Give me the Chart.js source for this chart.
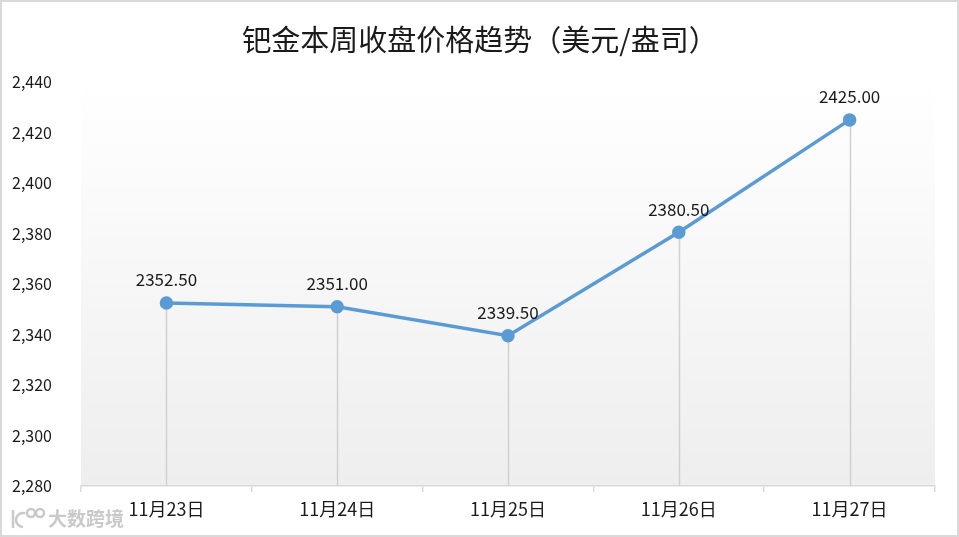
<!DOCTYPE html>
<html>
<head>
<meta charset="utf-8">
<script src="https://cdn.jsdelivr.net/npm/chart.js@4/dist/chart.umd.min.js"></script>
<style>
  html, body { margin: 0; padding: 0; background: #fff; }
  #wrap { width: 959px; height: 537px; }
</style>
</head>
<body>
<div id="wrap"><canvas id="canvas" width="959" height="537"></canvas></div>
<script>
var chartTitle = '钯金本周收盘价格趋势（美元/盎司）';
var categories = ['11月23日', '11月24日', '11月25日', '11月26日', '11月27日'];
var prices = [2352.50, 2351.00, 2339.50, 2380.50, 2425.00];
var yMin = 2280, yMax = 2440, yStep = 20;

var FONT = '"Noto Sans CJK SC", "Noto Sans", sans-serif';
var lineColor = '#5B9BD5';

// white-to-grey fill behind the plot, plus frame and title
var backdrop = {
    id: 'backdrop',
    beforeDraw: function(chart) {
        var ctx = chart.ctx, a = chart.chartArea;
        ctx.save();
        ctx.fillStyle = '#fff';
        ctx.fillRect(0, 0, chart.width, chart.height);
        var g = ctx.createLinearGradient(0, a.top, 0, a.bottom);
        g.addColorStop(0, '#ffffff');
        g.addColorStop(1, '#eeeeee');
        ctx.fillStyle = g;
        ctx.fillRect(a.left, a.top, a.right - a.left, a.bottom - a.top);
        ctx.restore();
    },
    afterDraw: function(chart) {
        var ctx = chart.ctx;
        ctx.save();
        ctx.strokeStyle = '#d9d9d9';
        ctx.lineWidth = 2;
        ctx.strokeRect(1, 1, chart.width - 2, chart.height - 2);
        ctx.fillStyle = '#1a1a1a';
        ctx.font = '29px ' + FONT;
        ctx.textAlign = 'center';
        ctx.textBaseline = 'middle';
        ctx.fillText(chartTitle, 480, 40);
        // watermark
        ctx.fillStyle = 'rgba(195,195,195,0.9)';
        ctx.font = 'bold 19px ' + FONT;
        ctx.textAlign = 'left';
        ctx.fillText('大数跨境', 48, 519);
        ctx.strokeStyle = 'rgba(195,195,195,0.9)';
        ctx.lineWidth = 2.5;
        ctx.beginPath(); ctx.moveTo(13, 510); ctx.lineTo(13, 528); ctx.stroke();
        ctx.beginPath(); ctx.arc(23, 520, 7, 0.5 * Math.PI, 1.6 * Math.PI); ctx.stroke();
        ctx.beginPath(); ctx.arc(31, 513, 4, 0, 2 * Math.PI); ctx.stroke();
        ctx.beginPath(); ctx.arc(40, 513, 4, 0, 2 * Math.PI); ctx.stroke();
        ctx.restore();
    }
};

// vertical drop lines and value labels
var dropLines = {
    id: 'dropLines',
    beforeDatasetsDraw: function(chart) {
        var ctx = chart.ctx, a = chart.chartArea;
        var pts = chart.getDatasetMeta(0).data;
        ctx.save();
        ctx.strokeStyle = '#d0d0d0';
        ctx.lineWidth = 1.5;
        pts.forEach(function(p) {
            ctx.beginPath();
            ctx.moveTo(Math.round(p.x) + 0.5, p.y);
            ctx.lineTo(Math.round(p.x) + 0.5, a.bottom);
            ctx.stroke();
        });
        ctx.restore();
    },
    afterDatasetsDraw: function(chart) {
        var ctx = chart.ctx;
        var pts = chart.getDatasetMeta(0).data;
        ctx.save();
        ctx.fillStyle = '#1a1a1a';
        ctx.font = '17px ' + FONT;
        ctx.textAlign = 'center';
        ctx.textBaseline = 'middle';
        pts.forEach(function(p, i) {
            ctx.fillText(prices[i].toFixed(2), p.x, p.y - 23);
        });
        ctx.restore();
    }
};

var ctx = document.getElementById('canvas').getContext('2d');
var chart = new Chart(ctx, {
    type: 'line',
    data: {
        labels: categories,
        datasets: [{
            data: prices,
            borderColor: lineColor,
            backgroundColor: lineColor,
            borderWidth: 3.5,
            pointRadius: 5,
            pointHoverRadius: 5,
            tension: 0
        }]
    },
    options: {
        responsive: false,
        animation: false,
        layout: { padding: { top: 82, right: 24, bottom: 0, left: 0 } },
        plugins: {
            legend: { display: false },
            title: { display: false },
            tooltip: { enabled: false }
        },
        scales: {
            x: {
                offset: true,
                grid: { offset: true, drawOnChartArea: false, tickLength: 6, color: '#d9d9d9', lineWidth: 1.5 },
                border: { color: '#d9d9d9', width: 1.5 },
                ticks: { color: '#1a1a1a', font: { family: FONT, size: 18 }, padding: 6, maxRotation: 0 },
                afterFit: function(s) { s.height = 51; }
            },
            y: {
                min: yMin,
                max: yMax,
                grid: { display: false },
                border: { display: false },
                ticks: {
                    stepSize: yStep,
                    padding: 21,
                    color: '#1a1a1a',
                    font: { family: FONT, size: 16 },
                    callback: function(v) { return v.toLocaleString('en-US'); }
                },
                afterFit: function(s) { s.width = 81; }
            }
        }
    },
    plugins: [backdrop, dropLines]
});
</script>
</body>
</html>
